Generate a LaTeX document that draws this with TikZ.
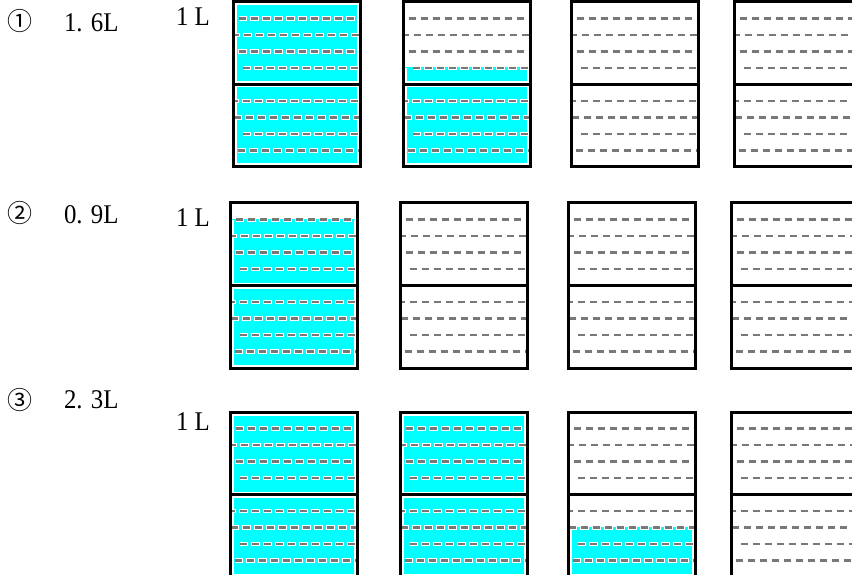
\documentclass[tikz,border=0pt]{standalone}
\usepackage{fontspec}
\setmainfont{Liberation Serif}[FakeStretch=0.92]
\newfontfamily\circfont{Noto Sans CJK JP}
\definecolor{aqua}{RGB}{0,255,255}
\definecolor{tick}{RGB}{120,120,120}

\begin{document}
\begin{tikzpicture}[x=1pt, y=-1pt, inner sep=0pt, outer sep=0pt,
    txt/.style={anchor=base west, font=\fontsize{27}{27}\selectfont},
    circ/.style={font=\circfont\fontsize{25}{25}\selectfont},
    water/.style={fill=aqua},
    level/.style={draw=aqua, line width=1pt},
    gauge/.style={draw=tick, line width=2.4pt, dash pattern=on 7pt off 5pt},
    halo/.style={draw=white, line width=4.4pt, dash pattern=on 9pt off 3pt},
    gap/.style={draw=white, line width=6pt},
    wall/.style={draw=black, line width=3pt}]
  \useasboundingbox (0,0) rectangle (852,575);

  % labels
  \node[circ] (idx1) at (20,21) {①};
  \node[txt] (amt1) at (64,32) {1. 6L};
  \node[txt] (unit1) at (176,26) {1 L};
  \node[circ] (idx2) at (20,213) {②};
  \node[txt] (amt2) at (64,223) {0. 9L};
  \node[txt] (unit2) at (176,226) {1 L};
  \node[circ] (idx3) at (20,400) {③};
  \node[txt] (amt3) at (64,408) {2. 3L};
  \node[txt] (unit3) at (176,430) {1 L};

  % 1 L measures, level in tenths
  \foreach \cx/\cy/\lvl in {233/2/10, 403/2/6, 571/2/0, 734/2/0,
      230/203/9, 400/203/0, 568/203/0, 731/203/0,
      230/412/10, 400/412/10, 568/412/3, 731/412/0}{
    \pgfmathsetmacro\wtop{max(\cy+3.5,\cy+165-16.5*\lvl)}
    \ifnum\lvl>0
      \fill[water] (\cx+3.5,\wtop) rectangle (\cx+123.5,\cy+161.5);
    \fi
    \ifnum\lvl>0 \ifnum\lvl<10
      \draw[level] (\cx,\wtop) -- (\cx+127,\wtop);
    \fi\fi
    \foreach \k/\dx/\ph/\hp in {16.5/4/0/1, 33/0/3/4, 49.5/0/8/9, 66/8/0/1,
        99/0/4/5, 115.5/0/1/2, 132/8/0/1, 148.5/3/0/1}{
      \draw[halo, dash phase=\hp] (\cx+\dx+1.5,\cy+\k) -- (\cx+125.5,\cy+\k);
      \draw[gauge, dash phase=\ph] (\cx+\dx+1.5,\cy+\k) -- (\cx+125.5,\cy+\k);
    }
    \draw[gap] (\cx+1.5,\cy+82.5) -- (\cx+125.5,\cy+82.5);
    \draw[wall] (\cx,\cy+82.5) -- (\cx+127,\cy+82.5);
    \draw[wall] (\cx,\cy) rectangle (\cx+127,\cy+165);
  }
\end{tikzpicture}
\end{document}
